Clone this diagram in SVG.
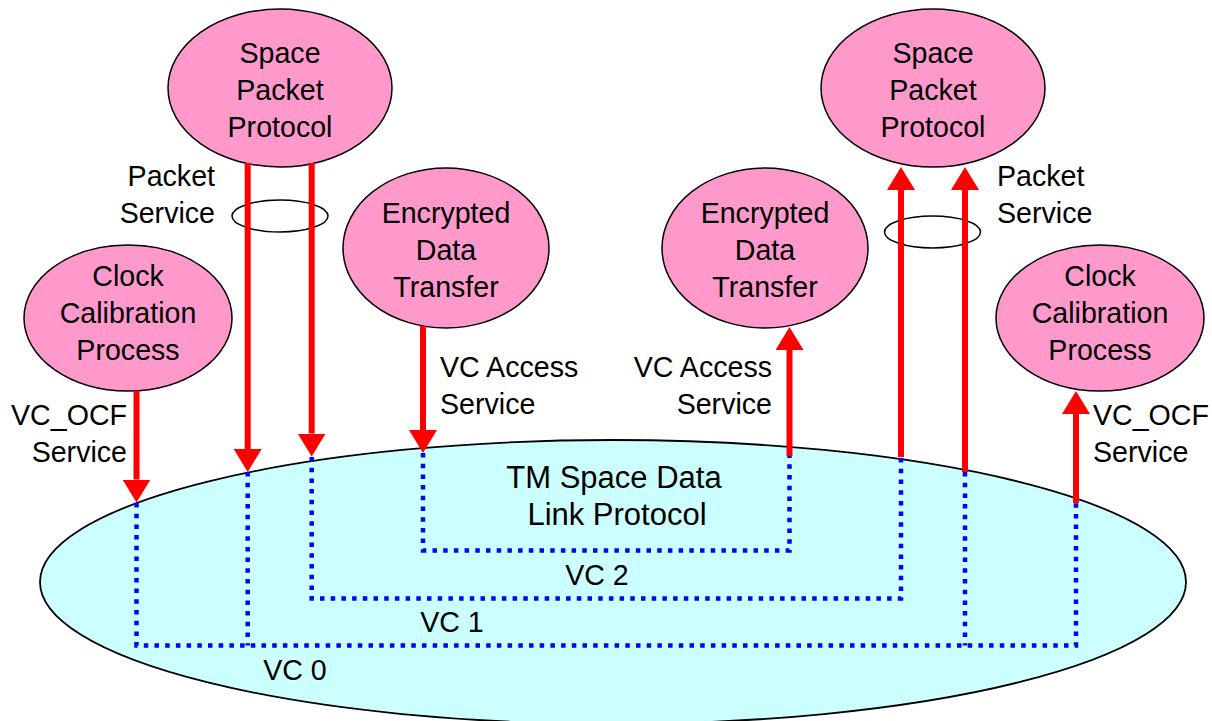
<svg xmlns="http://www.w3.org/2000/svg" width="1212" height="721" viewBox="0 0 1212 721">
<style>
text{font-family:"Liberation Sans",Arial,sans-serif;font-size:28.6px;fill:#000}
.big{font-size:31px}
.n{fill:#FF99CC;stroke:#000;stroke-width:1.5}
.c{text-anchor:middle}
.e{text-anchor:end}
.ring{fill:none;stroke:#000;stroke-width:1.5}
.arr{stroke:#FF0000;stroke-width:6;fill:none;marker-end:url(#ah)}
.vc{fill:none;stroke:#0000FF;stroke-width:4.5;stroke-dasharray:4.5 6.2}
</style>
<defs>
<marker id="ah" markerUnits="userSpaceOnUse" markerWidth="24" markerHeight="28" viewBox="0 0 24 28" refX="0" refY="14" orient="auto">
<path d="M0,0 L23,14 L0,28 Z" fill="#FF0000"/>
</marker>
</defs>
<rect width="1212" height="721" fill="#fff"/>
<g id="tm-space-data-link-protocol">
<ellipse cx="613" cy="582" rx="573" ry="142" fill="#CCFFFF" stroke="#000" stroke-width="1.8"/>
<text class="c big" x="614" y="488">TM Space Data</text>
<text class="c big" x="617" y="525">Link Protocol</text>
</g>
<g id="space-packet-protocol-left">
<ellipse class="n" cx="280" cy="88" rx="112" ry="79"/>
<text class="c" x="280" y="63">Space</text>
<text class="c" x="280" y="100">Packet</text>
<text class="c" x="280" y="137">Protocol</text>
</g>
<g id="space-packet-protocol-right">
<ellipse class="n" cx="933" cy="88" rx="112" ry="79"/>
<text class="c" x="933" y="63">Space</text>
<text class="c" x="933" y="100">Packet</text>
<text class="c" x="933" y="137">Protocol</text>
</g>
<g id="encrypted-data-transfer-left">
<ellipse class="n" cx="446" cy="248" rx="103" ry="80"/>
<text class="c" x="446" y="223">Encrypted</text>
<text class="c" x="446" y="260">Data</text>
<text class="c" x="446" y="297">Transfer</text>
</g>
<g id="encrypted-data-transfer-right">
<ellipse class="n" cx="765" cy="248" rx="103" ry="80"/>
<text class="c" x="765" y="223">Encrypted</text>
<text class="c" x="765" y="260">Data</text>
<text class="c" x="765" y="297">Transfer</text>
</g>
<g id="clock-calibration-left">
<ellipse class="n" cx="128" cy="318" rx="104" ry="73"/>
<text class="c" x="128" y="286">Clock</text>
<text class="c" x="128" y="323">Calibration</text>
<text class="c" x="128" y="360">Process</text>
</g>
<g id="clock-calibration-right">
<ellipse class="n" cx="1100" cy="318" rx="104" ry="73"/>
<text class="c" x="1100" y="286">Clock</text>
<text class="c" x="1100" y="323">Calibration</text>
<text class="c" x="1100" y="360">Process</text>
</g>
<g id="service-rings">
<ellipse class="ring" cx="280" cy="216" rx="48" ry="16"/>
<ellipse class="ring" cx="932.5" cy="232" rx="48" ry="16"/>
</g>
<g id="virtual-channels">
<path class="vc" d="M423,453 V550.5 H789.5 V456"/>
<path class="vc" d="M311.7,457 V598.5 H901 V457"/>
<path class="vc" d="M136.5,503 V645.5 H1076 V503"/>
<path class="vc" d="M247.7,472 V645.5"/>
<path class="vc" d="M965,472 V645.5"/>
</g>
<g id="connectors">
<line class="arr" x1="136.5" y1="391" x2="136.5" y2="479.5"/>
<line class="arr" x1="247.7" y1="163" x2="247.7" y2="449"/>
<line class="arr" x1="311.7" y1="163" x2="311.7" y2="433.5"/>
<line class="arr" x1="423" y1="326" x2="423" y2="430"/>
<line class="arr" x1="789.5" y1="456" x2="789.5" y2="350"/>
<line class="arr" x1="901" y1="457" x2="901" y2="190"/>
<line class="arr" x1="965" y1="472" x2="965" y2="190"/>
<line class="arr" x1="1076" y1="503" x2="1076" y2="414"/>
</g>
<g id="labels">
<text class="e" x="215" y="186">Packet</text>
<text class="e" x="215" y="223">Service</text>
<text x="997" y="186">Packet</text>
<text x="997" y="223">Service</text>
<text x="440" y="377">VC Access</text>
<text x="440" y="414">Service</text>
<text class="e" x="772" y="377">VC Access</text>
<text class="e" x="772" y="414">Service</text>
<text class="e" x="127" y="425">VC_OCF</text>
<text class="e" x="127" y="462">Service</text>
<text x="1093" y="425">VC_OCF</text>
<text x="1093" y="462">Service</text>
<text class="c" x="597" y="585">VC 2</text>
<text class="c" x="452" y="632">VC 1</text>
<text class="c" x="295" y="680">VC 0</text>
</g>
</svg>
